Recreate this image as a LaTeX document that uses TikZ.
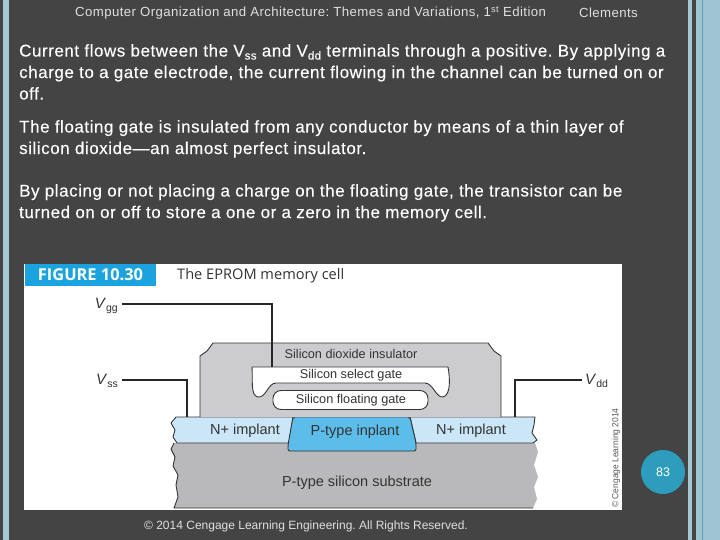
\documentclass[tikz,border=0pt]{standalone}
\usepackage{fontspec}
\setmainfont{Liberation Sans}
\newfontfamily\figfont{Open Sans}
\newfontfamily\slidefont[LetterSpace=3.2,FakeBold=0.15]{Liberation Sans}
\newfontfamily\headfont[LetterSpace=3.1]{Liberation Sans}
\usepackage{xcolor}
\usetikzlibrary{positioning}
\frenchspacing
\definecolor{slidedark}{HTML}{444444}
\definecolor{bandblue}{HTML}{A6C8D6}
\definecolor{bandpale}{HTML}{9FC4D2}
\definecolor{bandteal}{HTML}{5E9FB5}
\definecolor{figblue}{HTML}{1BA3E0}
\definecolor{oxidegray}{HTML}{CCCCCE}
\definecolor{subgray}{HTML}{B9B9BB}
\definecolor{implantpale}{HTML}{CBE7F7}
\definecolor{ptypeblue}{HTML}{5DBDEA}
\definecolor{pagecircle}{HTML}{2E9DBD}
\definecolor{figtext}{HTML}{333333}
\newcommand{\lowtxt}[1]{\raisebox{-3pt}{\fontsize{11.5}{11.5}\selectfont #1}}
\newcommand{\lowfig}[1]{\raisebox{-3.5pt}{\fontsize{10.5}{10.5}\selectfont #1}}
\begin{document}
\frenchspacing
\begin{tikzpicture}[
    x=1pt,y=-1pt,
    headline/.style={text=white!88!black, font=\headfont\fontsize{13.2}{15}\selectfont, inner sep=0pt},
    bodytext/.style={text=white, anchor=north west, align=left, inner sep=0pt,
                     font=\slidefont\fontsize{17}{21.5}\selectfont},
    partlabel/.style={text=figtext, inner sep=0pt, font=\fontsize{12.7}{14}\selectfont},
    bigpart/.style={text=figtext, inner sep=0pt, font=\fontsize{14.5}{16}\selectfont},
    voltage/.style={text=figtext, inner sep=0pt, font=\fontsize{15}{16}\selectfont},
    wire/.style={draw=black!85, line width=1.1pt},
    outline/.style={draw=black!80, line width=0.9pt, line join=round}
]
\useasboundingbox (0,0) rectangle (720,540);
\fill[slidedark] (0,0) rectangle (720,540);
\fill[bandblue] (3,0) rectangle (9,540);
\fill[bandblue] (688,0) rectangle (692,540);
\fill[bandpale] (696,0) rectangle (720,540);
\fill[bandteal] (702,0) rectangle (703,540);

% header and text
\node[headline, anchor=west] (title) at (75,13) {Computer Organization and Architecture: Themes and Variations, 1\textsuperscript{st} Edition};
\node[headline, anchor=west] (author) at (579,13) {Clements};
\node[bodytext] (para1) at (19,44) {Current flows between the V\lowtxt{ss} and V\lowtxt{dd} terminals through a positive. By applying a\\charge to a gate electrode, the current flowing in the channel can be turned on or\\off.};
\node[bodytext] (para2) at (19,120) {The floating gate is insulated from any conductor by means of a thin layer of\\silicon dioxide—an almost perfect insulator.};
\node[bodytext] (para3) at (19,184) {By placing or not placing a charge on the floating gate, the transistor can be\\turned on or off to store a one or a zero in the memory cell.};

% figure
\fill[white] (24,264) rectangle (622,510);
\node[fill=figblue, text=white, font=\figfont\bfseries\fontsize{16.4}{18}\selectfont, minimum width=131pt, minimum height=22pt, inner sep=0pt] (figtag) at (90.5,275) {FIGURE 10.30};
\node[text=figtext, font=\figfont\fontsize{14.6}{16}\selectfont, inner sep=0pt, anchor=west] (figname) at (177,276) {The EPROM memory cell};

% substrate
\fill[subgray] (174,443) -- (171,449) -- (175,457) -- (173,466) -- (178,475) -- (176,485) -- (178,497) -- (174,508)
  -- (533,508) -- (537,499) -- (534,487) -- (538,477) -- (534,465) -- (538,452) -- (535,443) -- cycle;
\draw[outline] (174,443) -- (171,449) -- (175,457) -- (173,466) -- (178,475) -- (176,485) -- (178,497) -- (174,508) -- (533,508);
% implants
\filldraw[fill=implantpale, outline] (176,417) -- (171,423) -- (175,430) -- (173,437) -- (177,443) -- (289,443) -- (293,417) -- cycle;
\filldraw[fill=implantpale, outline] (410,417) -- (535,417) -- (534,425) -- (532,433) -- (537,440) -- (533,443) -- (416,443) -- cycle;
\filldraw[fill=ptypeblue, outline, rounded corners=2pt] (293,417) -- (288,445) -- (288,451) -- (416,451) -- (416,443) -- (410,417) -- cycle;
% insulator
\filldraw[fill=oxidegray, outline] (200,417) -- (200,356) -- (207,351) -- (213,343) -- (488,343) -- (494,351) -- (501,356) -- (501,417);
% gates
\filldraw[fill=white, outline] (252,367) -- (448,367) .. controls (450,378) and (451,395) .. (443,397)
  .. controls (436,398) and (433,383) .. (425,383) -- (276,383)
  .. controls (268,383) and (266,398) .. (258,397) .. controls (250,396) and (253,378) .. (252,367) -- cycle;
\node[draw=black!80, line width=0.9pt, fill=white, rounded corners=8pt, minimum width=155pt, minimum height=19pt, inner sep=0pt] (floatgate) at (350.5,400) {};
\coordinate (selecttop) at (272,367);
\coordinate (sourcetop) at (187,417);
\coordinate (draintop) at (515,417);

% part labels
\node[partlabel] (oxidetxt) at (351,354) {Silicon dioxide insulator};
\node[partlabel] (selecttxt) at (351,375) {Silicon select gate};
\node[partlabel] (floattxt) at (351,400) {Silicon floating gate};
\node[bigpart] (nleft) at (245,431) {N+ implant};
\node[bigpart] (nright) at (471,431) {N+ implant};
\node[bigpart] (ptype) at (355,432) {P-type inplant};
\node[bigpart] (subtxt) at (357,483) {P-type silicon substrate};

% terminals
\node[voltage, anchor=east] (vgg) at (118,306) {\textit{V}\lowfig{gg}};
\node[voltage, anchor=east] (vss) at (118,381) {\textit{V}\lowfig{ss}};
\node[voltage, anchor=west] (vdd) at (585,381) {\textit{V}\lowfig{dd}};
\draw[wire] (122,304) coordinate (vggend) -| (selecttop);
\draw[wire] (122,380) coordinate (vssend) -| (sourcetop);
\draw[wire] (582,380) coordinate (vddend) -| (draintop);

\node[rotate=90, text=black!65, font=\fontsize{9}{10}\selectfont, inner sep=0pt, xscale=0.94] (credit) at (616,458) {© Cengage Learning 2014};

% page mark and footer
\node[circle, fill=pagecircle, text=white, minimum size=44pt, inner sep=0pt, font=\fontsize{12.5}{14}\selectfont] (pagenum) at (663,472) {83};
\node[headline, font=\fontsize{12}{14}\selectfont] (footer) at (306,526) {© 2014 Cengage Learning Engineering. All Rights Reserved.};
\end{tikzpicture}
\end{document}
